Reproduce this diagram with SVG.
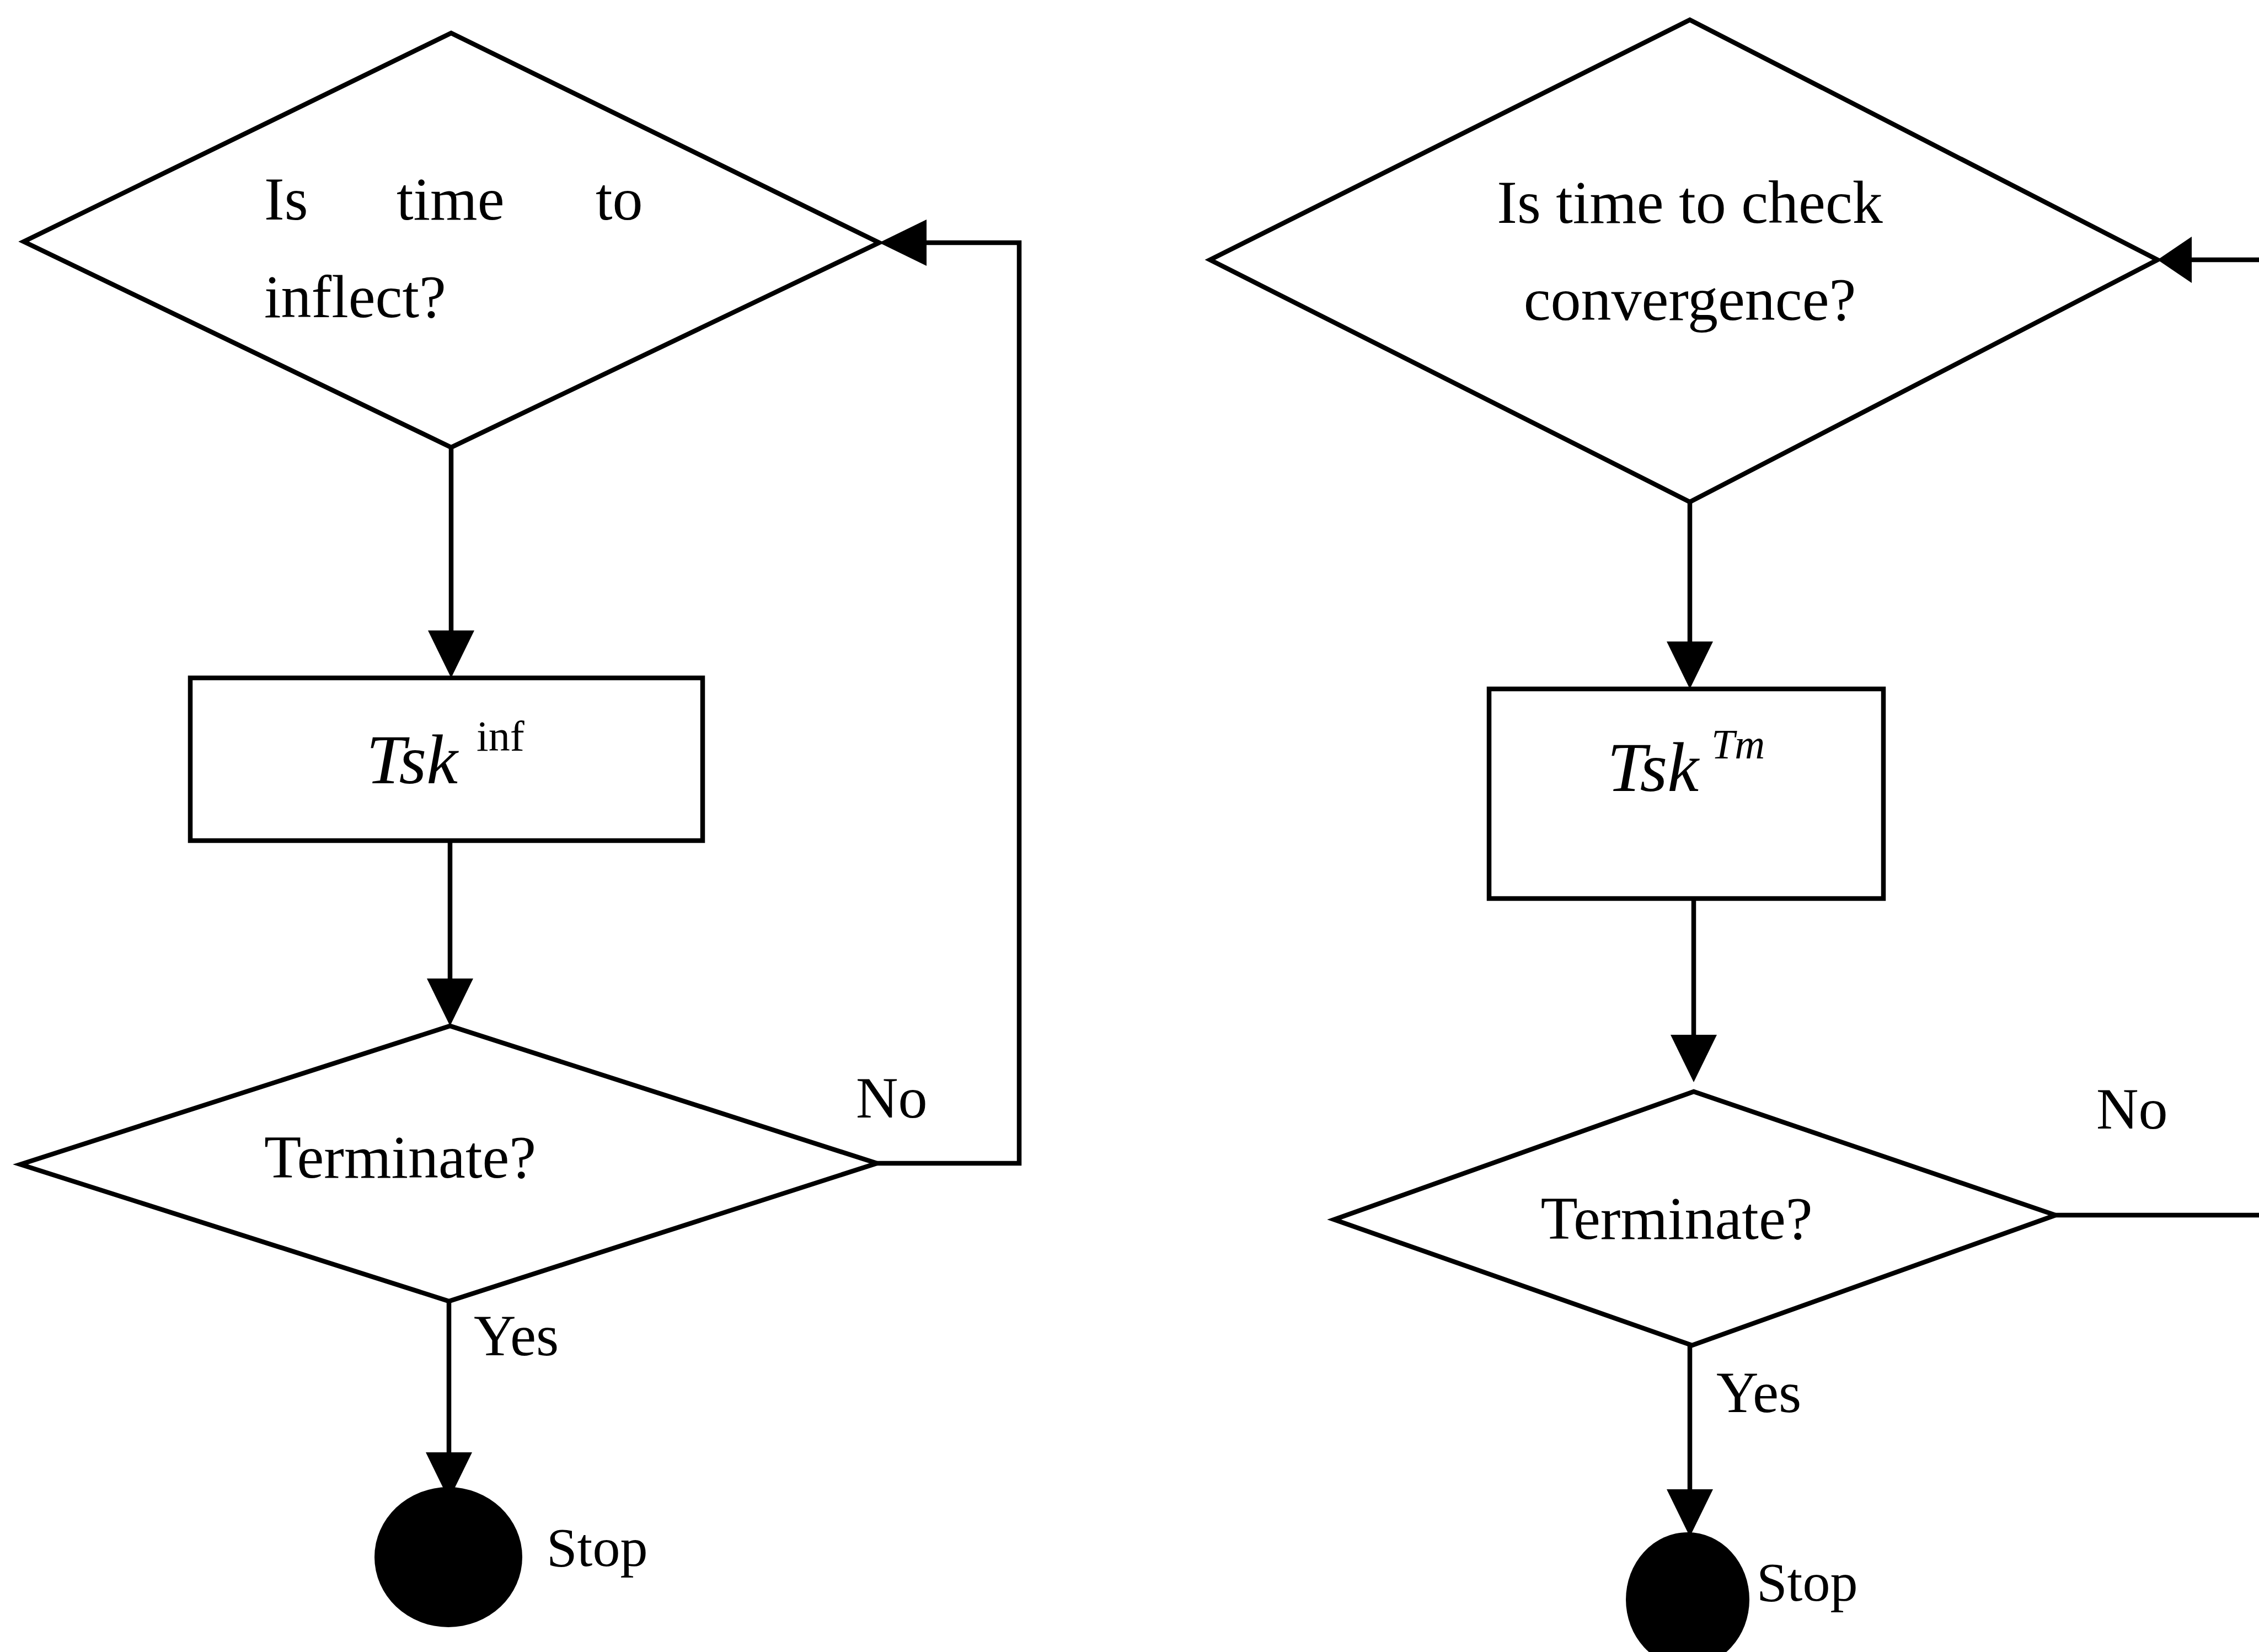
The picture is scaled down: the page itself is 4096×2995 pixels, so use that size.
<svg xmlns="http://www.w3.org/2000/svg" width="4096" height="2995" viewBox="0 0 4096 2995">
<style>
.shape{fill:#fff;stroke:#000;stroke-width:8.5;stroke-linejoin:miter}
.conn{fill:none;stroke:#000;stroke-width:8.5}
.t{font-family:"Liberation Serif","Times New Roman",serif;font-size:110px;fill:#000}
.lbl{font-family:"Liberation Serif","Times New Roman",serif;font-size:106px;fill:#000}
.stop{font-family:"Liberation Serif","Times New Roman",serif;font-size:100px;fill:#000}
.it{font-family:"Liberation Serif","Times New Roman",serif;font-style:italic;font-size:128px;fill:#000}
.sup{font-family:"Liberation Serif","Times New Roman",serif;font-size:78px;fill:#000}
</style>
<defs>
<marker id="ah" markerUnits="userSpaceOnUse" viewBox="0 0 86 84" refX="0" refY="42" markerWidth="86" markerHeight="84" orient="auto">
<path d="M0,0 L86,42 L0,84 Z" fill="#000"/>
</marker>
<marker id="ahs" markerUnits="userSpaceOnUse" viewBox="0 0 62 84" refX="0" refY="42" markerWidth="62" markerHeight="84" orient="auto">
<path d="M0,0 L62,42 L0,84 Z" fill="#000"/>
</marker>
</defs>
<rect width="4096" height="2995" fill="#fff"/>

<g id="connectors">
<path class="conn" d="M818,811 V1143" marker-end="url(#ah)"/>
<path class="conn" d="M816,1524 V1774" marker-end="url(#ah)"/>
<path class="conn" d="M1590,2109 H1848 V440 H1680" marker-end="url(#ah)"/>
<path class="conn" d="M814,2359 V2633" marker-end="url(#ah)"/>
<path class="conn" d="M3064,910 V1163" marker-end="url(#ah)"/>
<path class="conn" d="M3071,1629 V1876" marker-end="url(#ah)"/>
<path class="conn" d="M4096,471 H3974" marker-end="url(#ahs)"/>
<path class="conn" d="M3727,2203 H4096"/>
<path class="conn" d="M3064,2439 V2700" marker-end="url(#ah)"/>
</g>

<g id="decision-inflect">
<polygon class="shape" points="43,438 818,60 1594,440 818,811"/>
<text class="t" x="479" y="398">Is</text>
<text class="t" x="719" y="398">time</text>
<text class="t" x="1080" y="398">to</text>
<text class="t" x="479" y="575">inflect?</text>
</g>

<g id="task-inf">
<rect class="shape" x="345" y="1229" width="929" height="295"/>
<text x="664" y="1420"><tspan class="it">Tsk</tspan><tspan class="sup" x="864" y="1361">inf</tspan></text>
</g>

<g id="terminate-left">
<polygon class="shape" points="37,2111 816,1860 1590,2109 814,2359"/>
<text class="t" x="479" y="2135">Terminate?</text>
</g>

<g id="stop-left">
<ellipse cx="813" cy="2823" rx="134" ry="127" fill="#000"/>
<text class="stop" x="991" y="2839">Stop</text>
</g>

<g id="labels-left">
<text class="lbl" x="1552" y="2026">No</text>
<text class="lbl" x="859" y="2457">Yes</text>
</g>

<g id="decision-convergence">
<polygon class="shape" points="2194,471 3064,36 3912,471 3064,910"/>
<text class="t" x="3064" y="404" text-anchor="middle">Is time to check</text>
<text class="t" x="3064" y="580" text-anchor="middle">convergence?</text>
</g>

<g id="task-tm">
<rect class="shape" x="2700" y="1249" width="715" height="380"/>
<text x="2914" y="1434"><tspan class="it">Tsk</tspan><tspan class="it" style="font-size:76px" x="3103" y="1375">Tm</tspan></text>
</g>

<g id="terminate-right">
<polygon class="shape" points="2419,2211 3071,1979 3727,2203 3068,2439"/>
<text class="t" x="3040" y="2246" text-anchor="middle">Terminate?</text>
</g>

<g id="stop-right">
<ellipse cx="3060" cy="2900" rx="112" ry="122" fill="#000"/>
<text class="stop" x="3185" y="2902">Stop</text>
</g>

<g id="labels-right">
<text class="lbl" x="3801" y="2046">No</text>
<text class="lbl" x="3112" y="2560">Yes</text>
</g>
</svg>
